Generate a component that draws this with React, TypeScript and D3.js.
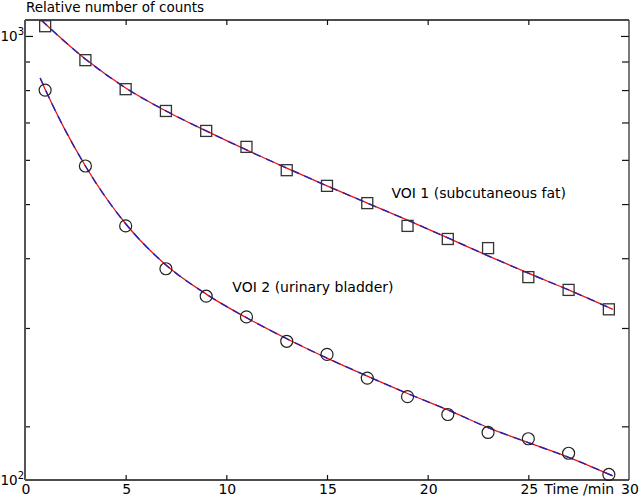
import React, { useEffect, useRef } from "react";
import * as d3 from "d3";

const WIDTH = 639;
const HEIGHT = 498;
const FRAME = { left: 25, right: 629, top: 20, bottom: 480 };

const TIMES = [1, 3, 5, 7, 9, 11, 13, 15, 17, 19, 21, 23, 25, 27, 29];
const VOI1 = [1041, 905, 803, 734, 676, 633, 575, 539, 502, 457, 433, 417, 370, 351, 324];
const VOI2 = [800, 585, 457, 383, 342, 314, 284, 269, 244, 226, 210, 195, 190, 179, 164];

const FIT1_TIMES = [0.8, 3, 5, 7, 9, 11, 13, 15, 17, 19, 21, 23, 25, 27, 29.2];
const FIT1 = [1068, 909, 807, 734, 676, 625, 580, 539, 502, 468, 435, 404, 376, 351, 324];
const FIT2_TIMES = [0.75, 1, 3, 5, 7, 9, 11, 13, 15, 17, 19, 21, 23, 25, 27, 29.2];
const FIT2 = [841, 803, 585, 461, 389, 345, 313, 287, 265, 246, 229, 214, 199, 187, 176, 163];

const X_DOMAIN = [0, 30];
const Y_DOMAIN = [160.3, 1068];
const X_TICKS = [5, 10, 15, 20, 25];
const X_LABELS = [0, 5, 10, 15, 20, 25, 30];
const Y_MINOR = [200, 300, 400, 500, 600, 700, 800, 900];
const Y_MAJOR = [1000];

const FONT = "'DejaVu Sans', Verdana, sans-serif";

const App = () => {
  const svgRef = useRef<SVGSVGElement | null>(null);

  useEffect(() => {
    const x = d3.scaleLinear().domain(X_DOMAIN).range([FRAME.left, FRAME.right]);
    const y = d3.scaleLog().domain(Y_DOMAIN).range([FRAME.bottom, FRAME.top]);

    const svg = d3.select(svgRef.current);
    svg.selectAll("*").remove();

    // axes (ticks pointing inward)
    const tidy = (g: any) => {
      g.select(".domain").remove();
      g.selectAll("text").remove();
      g.selectAll("line").attr("stroke", "#111").attr("stroke-width", 1.2);
    };
    svg
      .append("g")
      .attr("transform", `translate(0,${FRAME.bottom})`)
      .call(d3.axisBottom(x).tickValues(X_TICKS).tickSize(-5))
      .call(tidy);
    svg
      .append("g")
      .attr("transform", `translate(0,${FRAME.top})`)
      .call(d3.axisTop(x).tickValues(X_TICKS).tickSize(-5))
      .call(tidy);
    svg
      .append("g")
      .attr("transform", `translate(${FRAME.left},0)`)
      .call(d3.axisLeft(y).tickValues(Y_MINOR).tickSize(-5))
      .call(tidy);
    svg
      .append("g")
      .attr("transform", `translate(${FRAME.left},0)`)
      .call(d3.axisLeft(y).tickValues(Y_MAJOR).tickSize(-8))
      .call(tidy);
    svg
      .append("g")
      .attr("transform", `translate(${FRAME.right},0)`)
      .call(d3.axisRight(y).tickValues(Y_MINOR).tickSize(-7))
      .call(tidy);
    svg
      .append("g")
      .attr("transform", `translate(${FRAME.right},0)`)
      .call(d3.axisRight(y).tickValues(Y_MAJOR).tickSize(-8))
      .call(tidy);

    // frame
    svg
      .append("line")
      .attr("x1", FRAME.left)
      .attr("x2", FRAME.right)
      .attr("y1", FRAME.top)
      .attr("y2", FRAME.top)
      .attr("stroke", "#111")
      .attr("stroke-width", 1.3);
    svg
      .append("line")
      .attr("x1", FRAME.left)
      .attr("x2", FRAME.right)
      .attr("y1", FRAME.bottom)
      .attr("y2", FRAME.bottom)
      .attr("stroke", "#111")
      .attr("stroke-width", 1.5);
    svg
      .append("line")
      .attr("x1", FRAME.left)
      .attr("x2", FRAME.left)
      .attr("y1", FRAME.top)
      .attr("y2", FRAME.bottom)
      .attr("stroke", "#555")
      .attr("stroke-width", 2);
    svg
      .append("line")
      .attr("x1", FRAME.right)
      .attr("x2", FRAME.right)
      .attr("y1", FRAME.top)
      .attr("y2", FRAME.bottom)
      .attr("stroke", "#333")
      .attr("stroke-width", 1.3);

    // fit curves: red solid with blue dashes on top
    const line = d3
      .line<[number, number]>()
      .x((d) => x(d[0]))
      .y((d) => y(d[1]))
      .curve(d3.curveMonotoneX);
    const fits = [
      d3.zip(FIT1_TIMES, FIT1) as [number, number][],
      d3.zip(FIT2_TIMES, FIT2) as [number, number][],
    ];
    fits.forEach((pts) => {
      svg
        .append("path")
        .attr("d", line(pts))
        .attr("fill", "none")
        .attr("stroke", "#ee1111")
        .attr("stroke-width", 1.3);
      svg
        .append("path")
        .attr("d", line(pts))
        .attr("fill", "none")
        .attr("stroke", "#2222bb")
        .attr("stroke-width", 1.4)
        .attr("stroke-dasharray", "8,6");
    });

    // markers
    svg
      .append("g")
      .selectAll("rect")
      .data(d3.zip(TIMES, VOI1))
      .join("rect")
      .attr("x", (d) => x(d[0]) - 5.5)
      .attr("y", (d) => y(d[1]) - 5.5)
      .attr("width", 11)
      .attr("height", 11)
      .attr("fill", "none")
      .attr("stroke", "#333")
      .attr("stroke-width", 1.3);
    svg
      .append("g")
      .selectAll("circle")
      .data(d3.zip(TIMES, VOI2))
      .join("circle")
      .attr("cx", (d) => x(d[0]))
      .attr("cy", (d) => y(d[1]))
      .attr("r", 6)
      .attr("fill", "none")
      .attr("stroke", "#222")
      .attr("stroke-width", 1.2);

    // x tick labels
    svg
      .append("g")
      .selectAll("text")
      .data(X_LABELS)
      .join("text")
      .attr("x", (d) => x(d) + 1)
      .attr("y", FRAME.bottom + 14)
      .attr("text-anchor", "middle")
      .attr("font-size", 14)
      .attr("font-family", FONT)
      .text((d) => String(d));

    svg
      .append("text")
      .attr("x", x(25) + 16)
      .attr("y", FRAME.bottom + 14)
      .attr("font-size", 14)
      .attr("font-family", FONT)
      .text("Time /min");

    // y tick labels 10^2 (bottom) and 10^3
    const power = (val: number, exp: string) => {
      const t = svg
        .append("text")
        .attr("x", 0.5)
        .attr("y", y(val) + 5)
        .attr("text-anchor", "start")
        .attr("font-size", 13.5)
        .attr("font-family", FONT);
      t.append("tspan").text("10");
      t.append("tspan").attr("font-size", 10).attr("dy", -6).text(exp);
    };
    power(Y_DOMAIN[0], "2");
    power(Y_MAJOR[0], "3");

    svg
      .append("text")
      .attr("x", FRAME.left + 1)
      .attr("y", 12)
      .attr("font-size", 13.5)
      .attr("font-family", FONT)
      .text("Relative number of counts");

    svg
      .append("text")
      .attr("x", x(18.2))
      .attr("y", 198)
      .attr("font-size", 14)
      .attr("font-family", FONT)
      .text("VOI 1 (subcutaneous fat)");
    svg
      .append("text")
      .attr("x", x(10.3))
      .attr("y", 292)
      .attr("font-size", 14)
      .attr("font-family", FONT)
      .text("VOI 2 (urinary bladder)");
  }, []);

  return (
    <svg
      ref={svgRef}
      width={WIDTH}
      height={HEIGHT}
      style={{ position: "absolute", left: 0, top: 0, background: "#fff" }}
    />
  );
};

export default App;
